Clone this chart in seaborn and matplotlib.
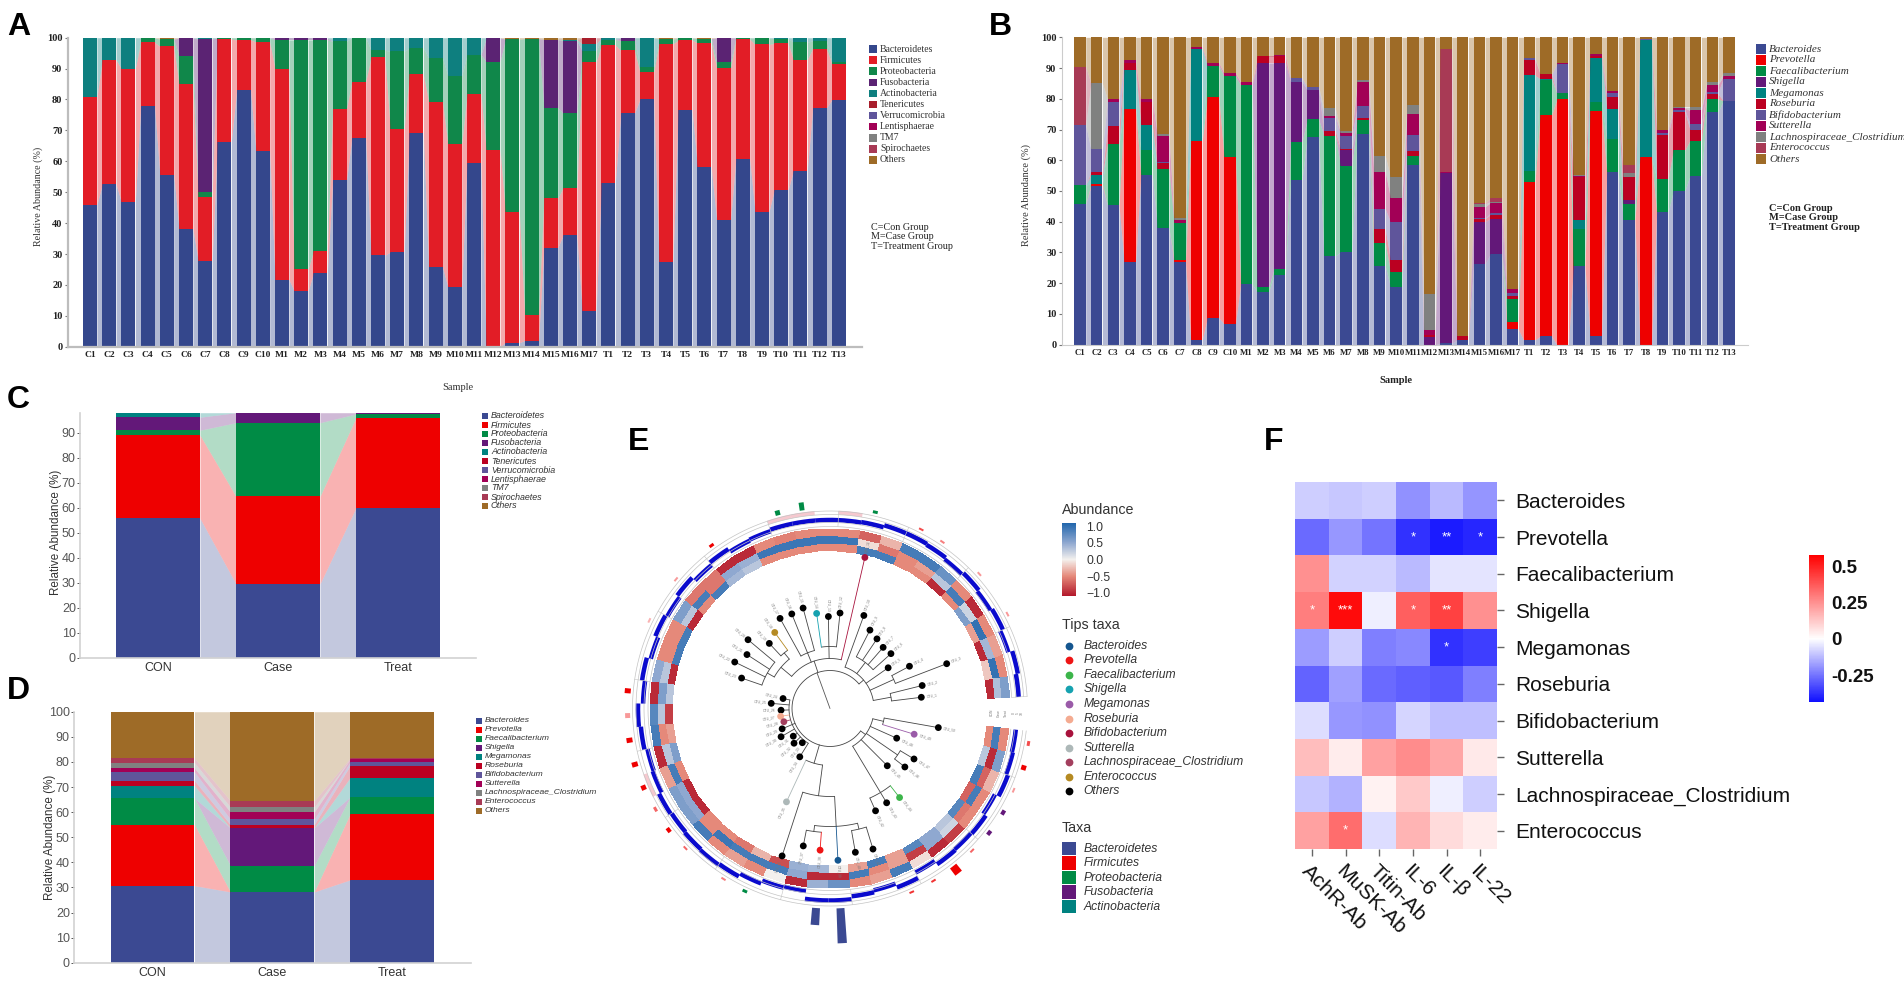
import numpy as np
import pandas as pd
import seaborn as sns
import matplotlib
matplotlib.use("Agg")
import matplotlib.pyplot as plt
from matplotlib.cm import ScalarMappable
from matplotlib.colors import LinearSegmentedColormap, Normalize
from matplotlib.patches import Rectangle

W, H = 1904, 983

# sample names for panels A and B
samples = [f"C{i}" for i in range(1, 11)] + [f"M{i}" for i in range(1, 18)] + [f"T{i}" for i in range(1, 14)]

phyla = ["Bacteroidetes", "Firmicutes", "Proteobacteria", "Fusobacteria", "Actinobacteria", "Tenericutes",
         "Verrucomicrobia", "Lentisphaerae", "TM7", "Spirochaetes", "Others"]
genera = ["Bacteroides", "Prevotella", "Faecalibacterium", "Shigella", "Megamonas", "Roseburia",
          "Bifidobacterium", "Sutterella", "Lachnospiraceae_Clostridium", "Enterococcus", "Others"]
stack_colors = ["#3B4992", "#EE0000", "#008B45", "#631879", "#008280", "#BB0021",
                "#5F559B", "#A20056", "#808180", "#A83A55", "#9E6B27"]

# panel A, top of each layer per sample
a_bact = [46, 52.5, 46.7, 78, 55.7, 38, 27.7, 66.3, 83, 63.4, 21.7, 18, 23.8, 53.8, 67.7, 29.6, 30.6, 69.3, 25.7, 19.4,
          59.6, 0, 1.3, 2, 32, 36, 11.5, 53, 75.5, 80, 27.3, 76.6, 58, 41, 60.7, 43.6, 50.7, 57, 77.3, 79.9]
a_firm = [80.7, 92.8, 89.9, 98.5, 97.2, 85, 48.3, 99.5, 99.3, 98.6, 89.8, 25, 31, 77, 85.8, 93.7, 70.5, 88.2, 79.3, 65.5,
          81.9, 63.5, 43.6, 10.3, 48, 51.4, 92, 97.7, 95.9, 88.9, 98, 99.2, 98.3, 90.3, 99.5, 97.8, 98.2, 92.9, 96.5, 91.5]
a_prot = [80.7, 92.8, 89.9, 100, 99.5, 94.2, 50, 100, 100, 100, 99.3, 99.3, 99.3, 98.8, 100, 95.9, 95.6, 96.6, 93.4, 87.7,
          94.5, 92.2, 99.5, 99.7, 77.4, 75.5, 95.7, 99.4, 99, 90.5, 99.5, 99.8, 99.7, 92.2, 100, 99.8, 99.7, 98.5, 99, 92]
a_fuso = [80.7, 92.8, 89.9, 100, 99.5, 100, 99.5, 100, 100, 100, 100, 100, 100, 98.8, 100, 95.9, 95.6, 96.6, 93.4, 87.7,
          94.5, 100, 99.5, 99.7, 99.4, 99, 95.7, 99.4, 100, 90.5, 99.5, 99.8, 99.7, 100, 100, 99.8, 99.7, 98.5, 99, 92]
a_acti = [100, 100, 100, 100, 99.5, 100, 100, 100, 100, 100, 100, 100, 100, 100, 100, 100, 100, 100, 100, 100,
          100, 100, 99.5, 99.7, 99.4, 99.3, 98, 100, 100, 100, 99.5, 100, 99.7, 100, 100, 100, 100, 100, 100, 100]
a_tene = [100, 100, 100, 100, 99.5, 100, 100, 100, 100, 100, 100, 100, 100, 100, 100, 100, 100, 100, 100, 100,
          100, 100, 99.5, 99.7, 99.4, 99.3, 100, 100, 100, 100, 99.5, 100, 99.7, 100, 100, 100, 100, 100, 100, 100]
a_other = [100] * 40

# panel B, same idea
b_bact = [45.7, 51.5, 45.3, 27, 55.3, 38, 26.8, 1.5, 8.7, 6.8, 19.7, 17.3, 22.7, 53.7, 67.7, 28.9, 30.2, 68.5, 25.6, 18.9,
          58.3, 0, 0.5, 1.5, 26.2, 29.5, 5, 1.5, 2.8, 0, 25.5, 2.8, 56.3, 40.6, 0, 43.1, 50, 54.9, 75.7, 79.4]
b_prev = [45.7, 52.2, 45.3, 76.8, 55.3, 38, 27.7, 66.2, 80.5, 61.2, 19.7, 17.3, 22.7, 53.7, 67.7, 28.9, 30.2, 68.5, 25.6, 18.9,
          58.3, 0, 0.5, 1.5, 26.2, 29.5, 7.4, 53, 74.8, 79.8, 25.5, 75.9, 56.3, 40.6, 60.9, 43.1, 50, 54.9, 75.7, 79.4]
b_faec = [52, 52.2, 65.2, 76.8, 63.3, 57, 39.5, 66.2, 90.8, 87.3, 84.5, 18.7, 24.5, 66, 73.3, 68, 58.2, 73, 33.2, 23.7,
          61.4, 0, 0.5, 1.5, 26.2, 29.5, 15, 56.6, 86, 81.8, 37.5, 78.8, 66.8, 45.7, 60.9, 54, 63.2, 66.4, 79.9, 79.4]
b_shig = [52, 52.2, 65.2, 76.8, 63.3, 57, 39.5, 66.2, 90.8, 87.3, 84.5, 91.7, 91.7, 85.5, 83, 68, 63.2, 73, 33.2, 23.7,
          61.4, 2.5, 56, 1.5, 40, 41, 15, 56.6, 86, 81.8, 37.5, 78.8, 66.8, 47.1, 60.9, 54, 63.2, 66.4, 79.9, 79.4]
b_mega = [52, 55.3, 65.2, 89.5, 71.5, 57, 39.5, 96.3, 90.8, 87.3, 84.5, 91.7, 91.7, 85.5, 83, 68, 63.2, 73, 33.2, 23.7,
          61.4, 2.5, 56, 1.5, 40, 41, 15, 87.6, 86.5, 81.8, 40.5, 93.3, 76.8, 47.1, 99, 54, 63.2, 66.4, 79.9, 79.4]
b_rose = [52, 56.2, 71, 91.5, 79, 59, 39.5, 96.3, 90.8, 87.3, 84.5, 93.9, 93.9, 85.5, 83, 69.6, 63.8, 73.9, 37.6, 27.6,
          63, 3, 56, 2.8, 41, 42.3, 16, 92.7, 88, 81.8, 54.5, 93.8, 80.7, 54.7, 99, 68.3, 75.8, 70, 81.6, 79.4]
b_bifi = [71.5, 63.6, 79, 91.5, 79, 59.4, 39.5, 96.3, 90.8, 87.3, 84.5, 93.9, 93.9, 86.8, 83.8, 73.8, 68, 77.5, 44.2, 40,
          68.3, 3, 56, 2.8, 41.2, 42.8, 16.8, 93.2, 88, 91.3, 54.5, 93.8, 81.8, 54.7, 99.4, 68.8, 76.5, 71.8, 82.2, 86.5]
b_sutt = [71.5, 63.6, 79.8, 92.5, 79.8, 68, 40.7, 97, 91.7, 88.4, 85.3, 93.9, 94.2, 86.8, 83.8, 74.3, 69, 85.3, 56.3, 47.8,
          75, 4.7, 56.2, 2.8, 44.8, 46.2, 18.2, 93.2, 88, 91.5, 54.8, 94.6, 82.6, 54.7, 99.4, 69.7, 77, 76.2, 84.6, 87.3]
b_lach = [71.5, 85, 79.8, 92.5, 79.8, 68.5, 41.2, 97, 91.7, 88.4, 85.5, 93.9, 94.2, 86.8, 83.8, 76.9, 69.5, 86.2, 61.5, 54.5,
          78, 16.5, 56.2, 2.8, 45.8, 46.5, 18.2, 93.2, 88, 91.5, 55.2, 94.6, 82.6, 55.8, 99.4, 70, 77.3, 77.3, 85.5, 88.4]
b_ente = [90.5, 85, 79.8, 92.5, 79.8, 68.5, 41.2, 97, 91.7, 88.4, 85.5, 93.9, 94.2, 86.8, 83.8, 76.9, 69.5, 86.2, 61.5, 54.5,
          78, 16.5, 96.3, 2.8, 46, 47.7, 18.2, 93.2, 88, 91.5, 55.2, 94.6, 82.6, 58.3, 99.4, 70, 77.3, 77.3, 85.5, 88.4]
b_other = [100] * 40

# panels C and D, group means
groups = ["CON", "Case", "Treat"]
c_bact = [55.7, 29.5, 60]
c_firm = [89, 64.5, 96]
c_prot = [91, 94, 97.5]
c_fuso = [96.2, 98, 98]
c_acti = [98, 98, 98]

d_bact = [30.7, 28.2, 33]
d_prev = [55, 28.2, 59.3]
d_faec = [65.5, 38.7, 66]
d_shig = [65.5, 53.7, 66]
d_mega = [70.5, 53.7, 73.7]
d_rose = [72.5, 55, 78.5]
d_bifi = [76, 57.2, 80]
d_sutt = [77.5, 60, 81]
d_lach = [79.7, 62, 81]
d_ente = [81.5, 64.5, 81.5]
d_other = [100, 100, 100]

# panel E, one entry per sector going counter clockwise from the gap on the right
ring_inner = [-1, -.2, -1, -.4, .6, -.5, -1, -.5, -.5, .9, .9, -.5, -.5, -.5, -.5, -.5, .3, .4, .9, -.5, -1, .9, .9, -1, .3,
              -.9, -.4, .6, -.5, -1, -1, -.5, -.5, -.6, -.3, -.8, .45, .4, 0, -.4, .9, -.4, .8, .5, .3, .8, -.7, .9, .3, -.5]
ring_mid = [.35, 1, .4, 1, .2, .9, .3, -.4, -.5, -.6, -.1, .95, .95, .95, .95, .95, .45, .5, -.6, .9, .3, -.5, -.5, .3, .6,
            .3, -.5, .3, .9, .5, .5, -.5, .95, .9, .9, .9, .5, -1, -1, .9, -.5, -.4, -.9, .5, .2, -.6, .9, -.7, -1, .9]
ring_outer = [.6, -.5, -.4, -.5, -1, -.5, .7, .9, .9, -.3, -.7, -.5, -.5, -.5, -.55, -.5, -1, -1, -.6, -.6, .6, -.5, -.5, .5, -1,
              .8, .9, -1, -.4, .6, .6, .9, -.5, -.4, -.5, 0, -1, .45, .7, -.5, -.4, .9, -.1, -1, -.9, -.5, -.5, -.3, .6, -.5]
blue_ring = [189, 191, 187, 190, 188, 190, 188, 190, 191, 191, 189, 188.5, 188.5, 188.5, 188.5, 187, 186, 189, 186, 190, 187,
             189, 186, 190, 187, 192, 190, 187, 188, 191, 190, 191, 192, 191, 188, 185, 184, 192, 192, 189, 187, 191, 185,
             189, 188, 189, 186, 190, 188, 187]
tip_radius = [92, 95, 125, 90, 71, 82, 81, 84, 88, 99, 155, 96, 92, 96, 104, 102, 103, 94, 89, 107, 99, 106, 93.5, 48, 59,
              49, 50, 48, 52, 56.5, 46, 50, 44, 57, 103, 155, 140, 142, 152, 146, 147, 112, 110, 113, 81, 95, 98, 73, 88, 110]
tip_special = {11: "Bifidobacterium", 14: "Shigella", 18: "Enterococcus", 27: "Roseburia", 28: "Lachnospiraceae_Clostridium",
               35: "Sutterella", 38: "Prevotella", 39: "Bacteroides", 44: "Faecalibacterium", 49: "Megamonas"}
pink_sectors = [12, 14, 15, 29]
# sector: (bar height, phylum index, shade)
outer_bars = {4: (2, 1, .4), 6: (2, 1, .4), 8: (2, 1, .5), 9: (2, 1, .7), 11: (3, 2, 1), 14: (8, 2, 1), 15: (5, 2, 1),
              18: (3, 1, 1), 20: (2, 1, .4), 22: (2, 1, .3), 25: (6, 1, 1), 26: (5, 1, .4), 27: (6, 1, 1), 28: (6, 1, 1),
              29: (5, 1, 1), 30: (3, 1, .6), 31: (4, 1, 1), 32: (2, 1, .6), 34: (2, 1, .5), 35: (3, 2, 1), 38: (17, 0, 1),
              39: (35, 0, 1), 42: (2, 1, .8), 43: (2, 1, .8), 44: (9, 1, 1), 45: (2, 1, .6), 46: (4, 3, 1), 47: (4, 3, 1),
              48: (2, 1, .4), 49: (5, 1, 1), 50: (3, 1, .7)}
tree = (38, [
    (44, [(62, [1, 2]), (70, [3, 4]), 5, (58, [6, 7, 8, 9]), 10]),
    (50, [11, (62, [12, 13, 14]), (60, [15, 16, 17]), (64, [(72, [18, 19]), (72, [20, 21, 22, 23])])]),
    (41, list(range(24, 35))),
    (57, [35, (88, [36, (118, [(124, [37, 38]), 39, (124, [40, 41])])])]),
    (44, [(98, [42, 43, 44]), 45, (82, [46, 47]), 48, (55, [49, 50])]),
])
tips_colors = {"Bacteroides": "#15568F", "Prevotella": "#EE1515", "Faecalibacterium": "#3CB54A", "Shigella": "#16A2B0",
               "Megamonas": "#9A5BA8", "Roseburia": "#F4AB91", "Bifidobacterium": "#A8123C", "Sutterella": "#ADB8B8",
               "Lachnospiraceae_Clostridium": "#A33F5E", "Enterococcus": "#B58A22", "Others": "#000000"}
taxa_e = ["Bacteroidetes", "Firmicutes", "Proteobacteria", "Fusobacteria", "Actinobacteria"]

# panel F
f_rows = ["Bacteroides", "Prevotella", "Faecalibacterium", "Shigella", "Megamonas", "Roseburia", "Bifidobacterium",
          "Sutterella", "Lachnospiraceae_Clostridium", "Enterococcus"]
f_cols = ["AchR-Ab", "MuSK-Ab", "Titin-Ab", "IL-6", "IL-β", "IL-22"]
f_achr = [-.09, -.27, .25, .29, -.18, -.28, -.06, .15, -.1, .21]
f_musk = [-.1, -.185, -.08, .55, -.09, -.17, -.185, .04, -.14, .33]
f_titin = [-.09, -.25, -.08, -.03, -.23, -.27, -.2, .21, .03, -.06]
f_il6 = [-.2, -.37, -.125, .36, -.215, -.29, -.075, .26, .12, .17]
f_ilb = [-.125, -.41, -.05, .43, -.37, -.3, -.115, .2, -.03, .08]
f_il22 = [-.19, -.39, -.05, .25, -.35, -.23, -.115, .05, -.09, .04]
f_stars_il6 = ["", "*", "", "*", "", "", "", "", "", ""]
f_stars_ilb = ["", "**", "", "**", "*", "", "", "", "", ""]
f_stars_il22 = ["", "*", "", "", "", "", "", "", "", ""]
f_stars_achr = ["", "", "", "*", "", "", "", "", "", ""]
f_stars_musk = ["", "", "", "***", "", "", "", "", "", "*"]
f_blank = [""] * 10

sns.set_theme(style="white")
plt.rcParams["font.family"] = ["Liberation Sans", "DejaVu Sans"]
fig = plt.figure(figsize=(W / 100, H / 100), dpi=100)


def px_axes(left, top, right, bottom, **kw):
    return fig.add_axes([left / W, 1 - bottom / H, (right - left) / W, (bottom - top) / H], **kw)


def ptext(x, y, s, **kw):
    kw.setdefault("va", "center")
    fig.text(x / W, 1 - y / H, s, **kw)


def psquare(x, y, w, h, color):
    fig.add_artist(Rectangle((x / W, 1 - (y + h) / H), w / W, h / H, transform=fig.transFigure,
                             color=color, lw=0))


def stacked(ax, labels, layers, colors, width, ribbon_alpha):
    # seaborn draws the biggest cumulative bar first, smaller ones go on top of it
    for tops, col in reversed(list(zip(layers, colors))):
        sns.barplot(x=labels, y=tops, color=col, saturation=1, width=width, errorbar=None, ax=ax, linewidth=0)
    n = len(labels)
    for i in range(n - 1):
        low = [0, 0]
        for tops, col in zip(layers, colors):
            high = [tops[i], tops[i + 1]]
            ax.fill_between([i + width / 2, i + 1 - width / 2], low, high, color=col, alpha=ribbon_alpha, lw=0)
            low = high


def key(names, colors, x, y0, dy, box, text_x, **kw):
    for i, (name, col) in enumerate(zip(names, colors)):
        psquare(x, y0 + i * dy - box / 2, box, box, col)
        ptext(text_x, y0 + i * dy, name, **kw)


def sample_panel(ax, layers, colors, center0, step, left, right, width, axis_color, axis_w):
    stacked(ax, samples, layers, colors, width, 0.38)
    ax.set_xlim((left - center0) / step, (right - center0) / step)
    ax.set_ylim(0, 100)
    ax.set_yticks(range(0, 101, 10))
    ax.set_xlabel("")
    ax.set_ylabel("")
    sns.despine(ax=ax)
    for side in ["left", "bottom"]:
        ax.spines[side].set_color(axis_color)
        ax.spines[side].set_linewidth(axis_w)
    ax.patch.set_alpha(0)
    ax.tick_params(axis="x", length=0, pad=3, labelsize=6.8, labelfontfamily="Liberation Serif", colors="#222222")
    ax.tick_params(axis="y", length=2.5, width=.8, pad=1.5, left=True, labelsize=7.5,
                   labelfontfamily="Liberation Serif", colors="#222222")
    plt.setp(ax.get_xticklabels(), fontweight="bold")
    plt.setp(ax.get_yticklabels(), fontweight="bold")
    ax.tick_params(axis="y", color="#777777")


def group_panel(ax, layers, colors, center0, step, left, right, top_val, ticks):
    stacked(ax, groups, layers, colors, 0.7, 0.3)
    ax.set_xlim((left - center0) / step, (right - center0) / step)
    ax.set_ylim(0, top_val)
    ax.set_yticks(ticks)
    ax.set_xlabel("")
    ax.set_ylabel("")
    sns.despine(ax=ax)
    for side in ["left", "bottom"]:
        ax.spines[side].set_color("#d2d2d2")
        ax.spines[side].set_linewidth(1.2)
    ax.tick_params(axis="x", length=0, pad=3, labelsize=9, colors="#333333")
    ax.tick_params(axis="y", length=2, width=.7, left=True, pad=1, labelsize=9, colors="#555555")


# panel A
ax_a = px_axes(68, 37.7, 862, 346.7)
a_colors = ["#34478C", "#E21D26", "#10874A", "#5B2373", "#0E7F7F", "#A81E2C", stack_colors[-1]]
sample_panel(ax_a, [a_bact, a_firm, a_prot, a_fuso, a_acti, a_tene, a_other], a_colors, 90, 19.2, 68, 862, 0.72,
             "#bdbdbd", 1.6)
ptext(38, 196, "Relative Abundance (%)", rotation=90, ha="center", family="Liberation Serif", fontsize=7.2, color="#333333")
ptext(458, 387, "Sample", ha="center", family="Liberation Serif", fontsize=7.5, color="#333333")
key(phyla, a_colors[:6] + stack_colors[6:], 869, 49, 11.1, 7.5, 880, family="Liberation Serif", fontsize=7, color="#333333")
for i, s in enumerate(["C=Con Group", "M=Case Group", "T=Treatment Group"]):
    ptext(871, 227 + i * 9.6, s, family="Liberation Serif", fontsize=7.3, color="#222222")

# panel B
ax_b = px_axes(1062, 37.3, 1748, 344.7)
sample_panel(ax_b, [b_bact, b_prev, b_faec, b_shig, b_mega, b_rose, b_bifi, b_sutt, b_lach, b_ente, b_other],
             stack_colors, 1080, 16.64, 1062, 1748, 0.69, "#cccccc", .8)
ax_b.tick_params(axis="x", labelsize=6.3)
ptext(1026, 195, "Relative Abundance (%)", rotation=90, ha="center", family="Liberation Serif", fontsize=7.5, color="#333333")
ptext(1395.7, 380.7, "Sample", ha="center", family="Liberation Serif", fontsize=7.5, fontweight="bold", color="#222222")
key(genera, stack_colors, 1756, 49, 11.0, 9.5, 1769, family="Liberation Serif", fontsize=8, style="italic", color="#333333")
for i, s in enumerate(["C=Con Group", "M=Case Group", "T=Treatment Group"]):
    ptext(1769, 208.7 + i * 9.2, s, family="Liberation Serif", fontsize=7.5, fontweight="bold", color="#222222")

# panel C
ax_c = px_axes(80, 412.7, 476, 657.7)
group_panel(ax_c, [c_bact, c_firm, c_prot, c_fuso, c_acti], stack_colors, 158, 120, 80, 476, 98, range(0, 91, 10))
ptext(56, 532, "Relative Abundance (%)", rotation=90, ha="center", fontsize=8.4, color="#333333")
key(phyla, stack_colors, 482, 416, 9, 6, 491, fontsize=6.4, style="italic", color="#333333")

# panel D
ax_d = px_axes(74, 711.7, 471, 962.7)
group_panel(ax_d, [d_bact, d_prev, d_faec, d_shig, d_mega, d_rose, d_bifi, d_sutt, d_lach, d_ente, d_other],
            stack_colors, 152.6, 119.7, 74, 471, 100, range(0, 101, 10))
ptext(50, 837, "Relative Abundance (%)", rotation=90, ha="center", fontsize=8.4, color="#333333")
key(genera, stack_colors, 476, 720.7, 9.03, 6, 485, fontsize=6.1, style="italic", color="#333333")

# panel E, the polar axis radius is in pixels so the rings are easy to line up
ax_e = px_axes(590, 468.5, 1070, 948.5, projection="polar")
ax_e.set_rlim(0, 240)
ax_e.axis("off")
ring_cmap = LinearSegmentedColormap.from_list(
    "ring", [(0, "#B2182B"), (.27, "#E5897A"), (.5, "#F4F1EE"), (.73, "#8FA8D0"), (1, "#2166AC")])
ring_norm = Normalize(-1.1, 1.1)
n_sect = len(tip_radius)
edges = np.radians(3.5 + 7.0 * np.arange(n_sect + 1))
centers = (edges[:-1] + edges[1:]) / 2
rings = np.array([ring_inner, ring_mid, ring_outer])
ax_e.pcolormesh(edges, [158, 165.3, 172.6, 180], rings, cmap=ring_cmap, norm=ring_norm, shading="flat")
arc = np.linspace(edges[0], edges[-1], 400)
for r in [182, 186, 194, 197.5]:
    ax_e.plot(arc, np.full(arc.shape, r), color="#c4c4c4", lw=.5)
for e in edges[::3]:
    ax_e.plot([e, e], [182, 197.5], color="#c4c4c4", lw=.4)
for s in pink_sectors:
    ax_e.bar(centers[s - 1], 4, width=np.radians(7), bottom=194, color="#F6C9CF", lw=0)
ax_e.bar(centers, 4.5, width=np.radians(7), bottom=np.array(blue_ring) - 2.25, color="#0A0ACD", lw=0)
for s, (height, idx, shade) in outer_bars.items():
    bw = 8.5 / 215 if height > 8 else 5 / 205
    ax_e.bar(centers[s - 1], height, width=bw, bottom=200, color=stack_colors[idx], alpha=shade, lw=0)


def clade_angle(node):
    if isinstance(node, int):
        return centers[node - 1]
    angles = [clade_angle(k) for k in node[1]]
    return (angles[0] + angles[-1]) / 2


def draw_clade(node, parent_r):
    a = clade_angle(node)
    if isinstance(node, int):
        name = tip_special.get(node, "Others")
        col = tips_colors[name] if name != "Others" else "#444444"
        ax_e.plot([a, a], [parent_r, tip_radius[node - 1]], color=col, lw=.6)
        return
    r, kids = node
    ax_e.plot([a, a], [parent_r, r], color="#444444", lw=.6)
    angles = [clade_angle(k) for k in kids]
    seg = np.linspace(min(angles), max(angles), 60)
    ax_e.plot(seg, np.full(seg.shape, r), color="#444444", lw=.6)
    for k in kids:
        draw_clade(k, r)


ax_e.plot([np.radians(110)] * 2, [0, tree[0]], color="#555555", lw=.6)
draw_clade(tree, tree[0])
tip_cols = [tips_colors[tip_special.get(i + 1, "Others")] for i in range(n_sect)]
ax_e.scatter(centers, tip_radius, s=24, c=tip_cols, lw=0, zorder=5)
for i, (a, r) in enumerate(zip(centers, tip_radius)):
    deg = np.degrees(a)
    flip = 90 < deg < 270
    ax_e.text(a, r + 5, f"OTU_{i + 1}", fontsize=2.4, color="#777777", rotation=deg + 180 if flip else deg,
              rotation_mode="anchor", ha="right" if flip else "left", va="center")
for r, s in zip([161.5, 169, 176, 184, 188, 192], ["CON", "Case", "Treat", "0", "5", "10"]):
    ax_e.text(np.radians(-1.5), r, s, fontsize=2.4, color="#777777", rotation=90, ha="center", va="center")

ptext(1062, 510, "Abundance", fontsize=10.3, color="#333333")
cax_e = px_axes(1062, 523, 1076.4, 596)
cb_e = fig.colorbar(ScalarMappable(norm=ring_norm, cmap=ring_cmap), cax=cax_e, ticks=[-1, -.5, 0, .5, 1])
cb_e.ax.set_yticklabels(["−1.0", "−0.5", "0.0", "0.5", "1.0"])
cb_e.outline.set_visible(False)
cax_e.tick_params(length=3, width=.6, color="white", direction="in", left=True, right=True, pad=7,
                  labelsize=8.7, labelcolor="#333333")
ptext(1062, 625, "Tips taxa", fontsize=10.3, color="#333333")
for i, (name, col) in enumerate(tips_colors.items()):
    fig.add_artist(plt.Line2D([1069 / W], [1 - (645.7 + i * 14.56) / H], marker="o", ms=5.6, color=col, lw=0,
                              mew=0, transform=fig.transFigure))
    ptext(1083.6, 645.7 + i * 14.56, name, fontsize=8.7, style="italic", color="#333333")
ptext(1062, 827.7, "Taxa", fontsize=10.3, color="#333333")
key(taxa_e, stack_colors[:5], 1062, 848.7, 14.5, 13.5, 1084, fontsize=8.7, style="italic", color="#333333")

# panel F
f_values = pd.DataFrame(dict(zip(f_cols, [f_achr, f_musk, f_titin, f_il6, f_ilb, f_il22])), index=f_rows)
f_stars = pd.DataFrame(dict(zip(f_cols, [f_stars_achr, f_stars_musk, f_blank, f_stars_il6, f_stars_ilb, f_stars_il22])),
                       index=f_rows)
f_min, f_max = -0.433, 0.576
f_cmap = LinearSegmentedColormap.from_list("f", [(0, "#1010FF"), (-f_min / (f_max - f_min), "#FFFFFF"), (1, "#FF0000")])
ax_f = px_axes(1295, 482, 1497, 849)
cax_f = px_axes(1809, 555, 1824, 701.7)
sns.heatmap(f_values, cmap=f_cmap, vmin=f_min, vmax=f_max, annot=f_stars, fmt="", ax=ax_f, cbar_ax=cax_f,
            annot_kws={"color": "white", "fontsize": 9.5},
            cbar_kws={"ticks": [-.25, 0, .25, .5]})
ax_f.yaxis.tick_right()
ax_f.tick_params(axis="y", length=5, width=1, color="#666666", right=True, left=False, pad=8, labelsize=15,
                 labelrotation=0, labelcolor="#111111")
ax_f.tick_params(axis="x", length=5, width=1, color="#666666", bottom=True, pad=4, labelsize=15, labelcolor="#111111")
for lab in ax_f.get_xticklabels():
    lab.set_rotation(-45)
    lab.set_ha("left")
    lab.set_va("top")
    lab.set_rotation_mode("anchor")
cax_f.set_yticklabels(["-0.25", "0", "0.25", "0.5"])
cax_f.tick_params(length=5, width=1, color="white", direction="in", left=True, right=True, pad=5, labelsize=13.5,
                  labelcolor="#111111")
plt.setp(cax_f.get_yticklabels(), fontweight="bold")

# panel letters
for letter, x, y in [("A", 19, 27), ("B", 1000, 27), ("C", 18, 400), ("D", 18, 691), ("E", 639, 442), ("F", 1274, 442)]:
    ptext(x, y, letter, ha="center", fontsize=23, fontweight="bold", color="black")

fig.savefig("out.png", dpi=100)
